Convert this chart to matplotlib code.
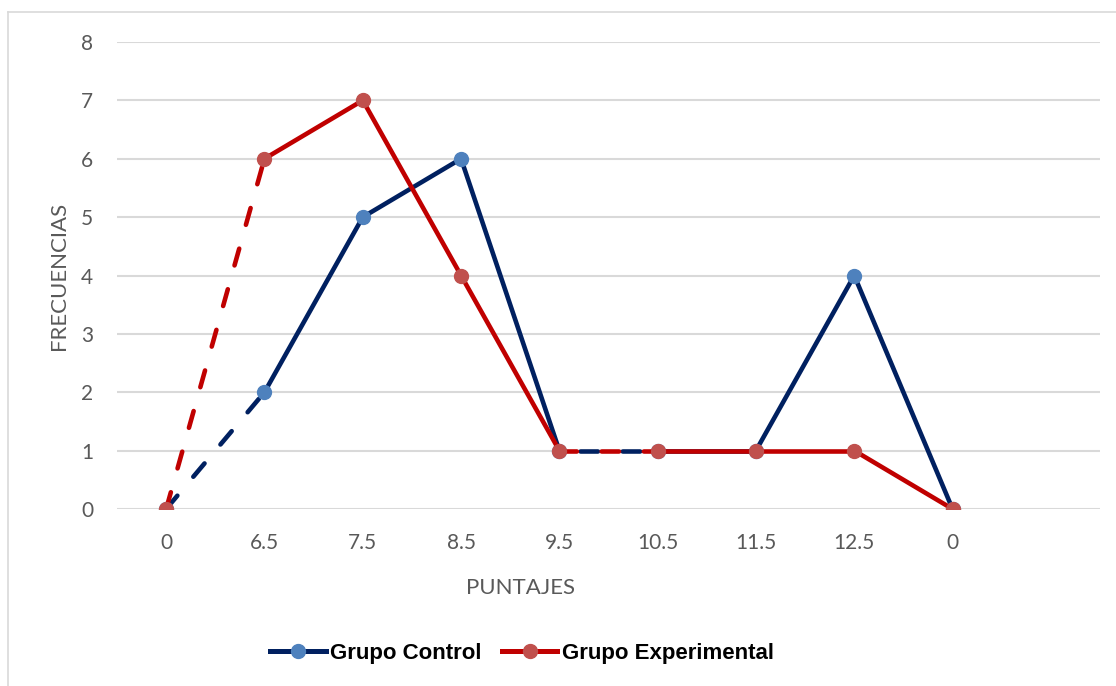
import matplotlib
matplotlib.use("Agg")
import matplotlib.pyplot as plt
from matplotlib.lines import Line2D

categories = ["0", "6.5", "7.5", "8.5", "9.5", "10.5", "11.5", "12.5", "0", ""]
control = [0, 2, 5, 6, 1, 1, 1, 4, 0]
experimental = [0, 6, 7, 4, 1, 1, 1, 1, 0]
dashed_segments = [0, 4]  # segment i joins point i and i+1
yticks = [0, 1, 2, 3, 4, 5, 6, 7, 8]

fig = plt.figure(figsize=(11.16, 6.86), dpi=100)
ax = fig.add_axes([117/1116, 1-509/686, (1100-117)/1116, (509-42)/686])

# figure border (top and left visible)
fig.add_artist(Line2D([8/1116, 8/1116], [0, 1-12/686], transform=fig.transFigure, color="#d9d9d9", lw=1.2))
fig.add_artist(Line2D([8/1116, 1], [1-12/686, 1-12/686], transform=fig.transFigure, color="#d9d9d9", lw=1.2))

LW = 3.3
def draw(series, lc, mc, label, z, offsets):
    x = list(range(len(series)))
    for i in range(len(series)-1):
        ls = (offsets.get(i, 0), (3.8, 5.4)) if i in dashed_segments else "-"
        ax.plot(x[i:i+2], series[i:i+2], color=lc, lw=LW, ls=ls,
                solid_capstyle="round", dash_capstyle="round", zorder=z)
    ax.plot(x, series, ls="none", marker="o", ms=10, mfc=mc, mec=mc, zorder=z+0.5)
    return Line2D([], [], color=lc, lw=3.6, marker="o", ms=10, mfc=mc, mec=mc, label=label)

h1 = draw(control, "#002060", "#4E81BD", "Grupo Control", 3, {4: 4.6})
h2 = draw(experimental, "#C00000", "#C0504D", "Grupo Experimental", 4, {})

ax.set_xlim(-0.5, len(categories)-0.5)
ax.set_ylim(0, 8)
ax.set_yticks(yticks)
ax.set_xticks(range(len(categories)))
ax.set_xticklabels(categories)
ax.grid(axis="y", color="#d9d9d9", lw=1.5)
ax.set_axisbelow(True)
for s in ax.spines.values():
    s.set_visible(False)
ax.tick_params(length=0, labelsize=15, labelcolor="#595959")
ax.tick_params(axis="x", pad=17)
ax.tick_params(axis="y", pad=17)
for t in ax.get_xticklabels() + ax.get_yticklabels():
    t.set_family("Lato")
ax.set_xlabel("PUNTAJES", fontsize=16, color="#595959", family="Lato")
ax.set_ylabel("FRECUENCIAS", fontsize=16, color="#595959", family="Lato")
ax.xaxis.set_label_coords((521-117)/(1100-117), -(588-509)/(509-42), transform=ax.transAxes)
ax.xaxis.label.set_va("center")
ax.yaxis.set_label_coords(-(117-59)/(1100-117), 0.5, transform=ax.transAxes)
ax.yaxis.label.set_va("center")

fig.legend(handles=[h1, h2], loc="center", bbox_to_anchor=(522/1116, 1-653/686), ncol=2,
           frameon=False, prop={"family": "Liberation Sans", "weight": "bold", "size": 16},
           handlelength=2.5, handletextpad=0.2, columnspacing=0.9)

fig.savefig("out.png", dpi=100)
